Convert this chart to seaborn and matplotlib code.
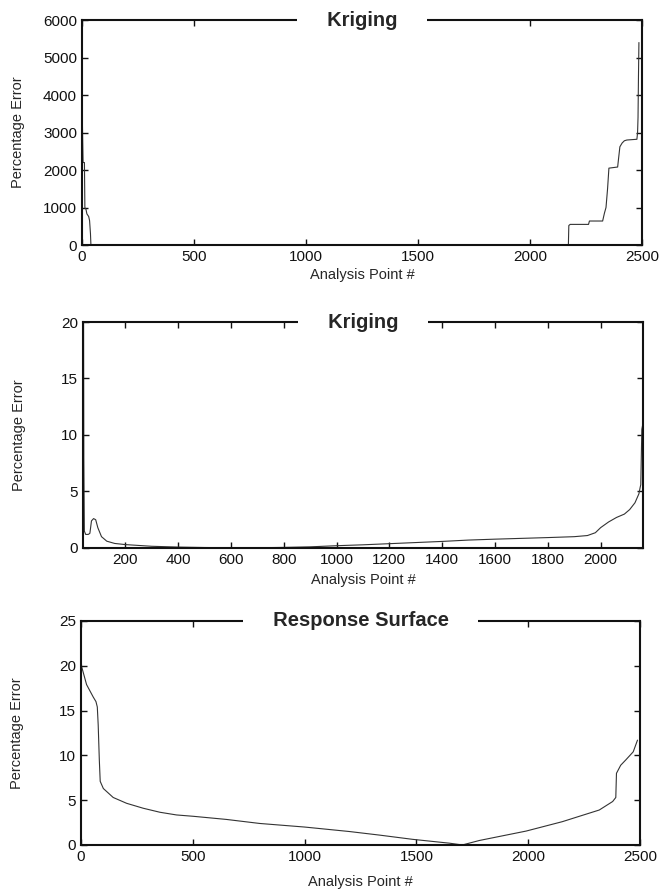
import numpy as np
import matplotlib
matplotlib.use("Agg")
import matplotlib.pyplot as plt
import seaborn as sns

# Panel 1: Kriging, full range
krig_full_x = [0, 5, 11, 13, 18, 22, 30, 34, 38, 40, 2172, 2174, 2180, 2262, 2266, 2325,
               2333, 2340, 2347, 2353, 2392, 2396, 2402, 2412, 2422, 2433, 2478, 2481,
               2483, 2485, 2487]
krig_full_y = [3900, 2200, 2200, 1000, 950, 830, 760, 650, 300, 0, 0, 520, 550, 550, 640, 640,
               850, 1000, 1500, 2050, 2080, 2300, 2620, 2720, 2780, 2800, 2820, 3000,
               3400, 4500, 5400]

# Panel 2: Kriging, zoomed
krig_zoom_x = [42, 43, 45, 50, 60, 66, 72, 80, 88, 96, 110, 130, 160, 200, 300, 400, 500,
               600, 700, 800, 900, 1000, 1100, 1200, 1300, 1400, 1500, 1600, 1700, 1800,
               1900, 1950, 1980, 2000, 2030, 2060, 2090, 2110, 2130, 2145, 2150, 2152,
               2156, 2160]
krig_zoom_y = [20, 8, 1.5, 1.2, 1.2, 1.3, 2.4, 2.6, 2.5, 1.8, 1.0, 0.6, 0.4, 0.3, 0.15, 0.08,
               0.04, 0.02, 0.02, 0.05, 0.1, 0.2, 0.28, 0.38, 0.48, 0.58, 0.7, 0.78, 0.85,
               0.92, 1.0, 1.1, 1.35, 1.8, 2.3, 2.7, 3.0, 3.4, 4.0, 4.8, 5.4, 5.6, 10.5, 11]

# Panel 3: Response surface
rs_x = [0, 3, 25, 55, 67, 73, 77, 82, 86, 100, 144, 204, 278, 353, 427, 502, 650, 799,
        1000, 1200, 1335, 1482, 1647, 1705, 1781, 1990, 2152, 2228, 2317, 2377, 2391,
        2394, 2413, 2436, 2469, 2488]
rs_y = [21.0, 19.9, 17.9, 16.5, 16.0, 15.4, 13.4, 9.5, 7.1, 6.3, 5.3, 4.65, 4.1, 3.65, 3.35,
        3.2, 2.85, 2.4, 2.0, 1.5, 1.1, 0.63, 0.2, 0.0, 0.5, 1.55, 2.6, 3.2, 3.9, 4.85, 5.3,
        8.0, 8.9, 9.5, 10.4, 11.7]

sns.set_style("ticks")
plt.rcParams['font.family'] = ['Liberation Sans', 'DejaVu Sans']
plt.rcParams['xtick.direction'] = 'in'
plt.rcParams['ytick.direction'] = 'in'
plt.rcParams['xtick.top'] = True
plt.rcParams['ytick.right'] = True

fig = plt.figure(figsize=(6.61, 8.90), dpi=100)
ax1 = fig.add_axes([0.124, 0.7247, 0.847, 0.2528])
ax2 = fig.add_axes([0.1256, 0.3843, 0.847, 0.2539])
ax3 = fig.add_axes([0.1225, 0.0506, 0.846, 0.2517])

paneles = [
    (ax1, krig_full_x, krig_full_y, "Kriging", (0, 2500), (0, 6000),
     np.arange(0, 2501, 500), np.arange(0, 6001, 1000), -0.133, "     "),
    (ax2, krig_zoom_x, krig_zoom_y, "Kriging", (40, 2160), (0, 20),
     np.arange(200, 2001, 200), np.arange(0, 21, 5), -0.142, "     "),
    (ax3, rs_x, rs_y, "Response Surface", (0, 2500), (0, 25),
     np.arange(0, 2501, 500), np.arange(0, 26, 5), -0.165, "     "),
]

for ax, xs, ys, titulo, xl, yl, xt, yt, ylab_x, hueco in paneles:
    sns.lineplot(x=xs, y=ys, ax=ax, sort=False, estimator=None,
                 color='#333333', lw=0.8)
    ax.set_xlim(*xl)
    ax.set_ylim(*yl)
    ax.set_xticks(xt)
    ax.set_yticks(yt)
    ax.tick_params(labelsize=11, length=4, width=1, colors='#111111')
    for sp in ax.spines.values():
        sp.set_visible(True)
        sp.set_linewidth(1.5)
        sp.set_color('#111111')
    ax.set_xlabel("Analysis Point #", fontsize=10.5)
    ax.set_ylabel("Percentage Error", fontsize=10.5)
    ax.xaxis.set_label_coords(0.5, ylab_x)
    ax.xaxis.label.set_verticalalignment('center')
    ax.yaxis.set_label_coords(-0.114, 0.5)
    ax.yaxis.label.set_verticalalignment('center')
    # título sobre el borde superior, con hueco blanco
    ax.text(0.5, 1.0, hueco + titulo + hueco, transform=ax.transAxes,
            ha='center', va='center', fontsize=14.5, fontweight='bold', zorder=10,
            bbox=dict(facecolor='white', edgecolor='none', pad=1))

fig.savefig("out.png", dpi=100)
